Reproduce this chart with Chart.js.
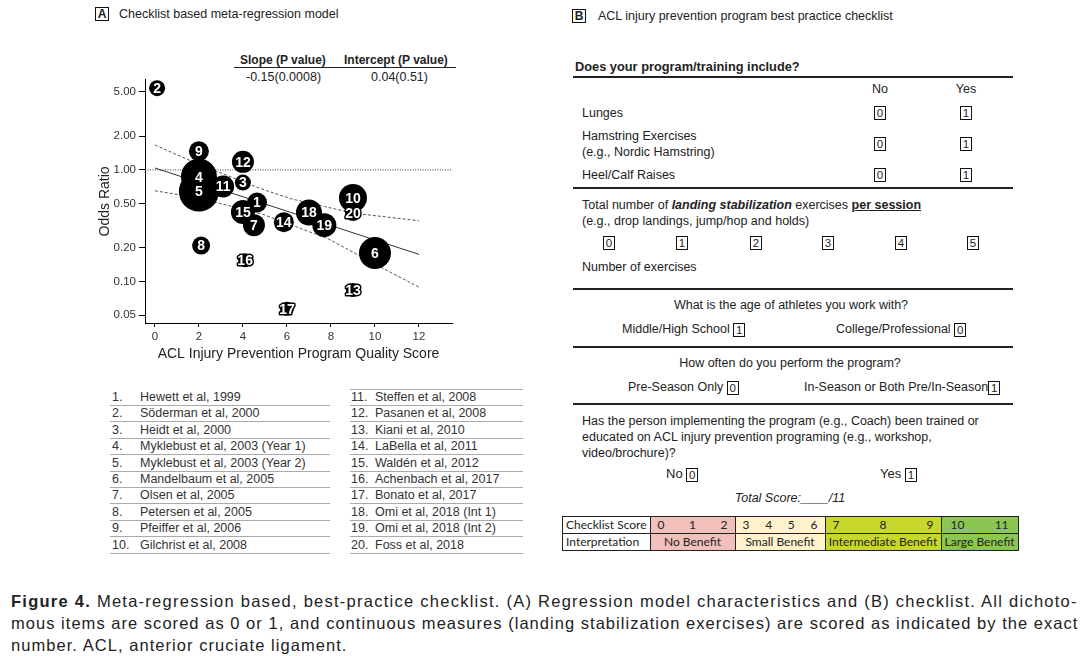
<!DOCTYPE html>
<html>
<head>
<meta charset="utf-8">
<script src="https://cdn.jsdelivr.net/npm/chart.js@4.4.0/dist/chart.umd.min.js"></script>
<style>
  body { margin: 0; width: 1089px; height: 656px; background: #fff; position: relative; overflow: hidden;
         font-family: "Liberation Sans", Arial, sans-serif; color: #222; }
  .t { position: absolute; white-space: nowrap; font-size: 12.5px; line-height: 14px; }
  .c { transform: translateX(-50%); }
  .hr { position: absolute; background: #222; height: 2px; left: 573px; width: 440px; }
  .ln { position: absolute; background: #aaa; height: 1px; }
  .bx { display: inline-block; box-sizing: border-box; border: 1px solid #111; width: 12px; height: 14px;
        line-height: 12px; text-align: center; font-size: 11.5px; vertical-align: middle; color: #222; }
  .pa { position: absolute; }
  .lab { position: absolute; box-sizing: border-box; border: 1px solid #111; width: 14px; height: 14px;
         line-height: 12px; text-align: center; font-size: 12px; font-weight: bold; }
  #wrap { position: absolute; left: 90px; top: 70px; width: 370px; height: 300px; }
  .ref { position: absolute; font-size: 12.5px; line-height: 14px; white-space: nowrap; color: #333; }
  table.sc { position: absolute; left: 562px; top: 516px; border-collapse: collapse; table-layout: fixed;
             font-family: Lato, "Open Sans", sans-serif; font-size: 12px; color: #222; }
  table.sc td { border: 1px solid #222; height: 16px; padding: 0 3px; line-height: 16px; white-space: nowrap; overflow: hidden; }
  .sp { display: flex; justify-content: space-between; padding: 0 4px; }
  .cap { position: absolute; left: 11px; display: inline-block; font-size: 16.5px; line-height: 18px; color: #222; white-space: nowrap; }
</style>
</head>
<body>

<!-- Panel A -->
<div class="lab" style="left:95px;top:7px">A</div>
<div class="t" style="left:119px;top:7px">Checklist based meta-regression model</div>
<div class="t" style="left:240px;top:53px;font-weight:bold;font-size:12px">Slope (P value)</div>
<div class="t" style="left:344px;top:53px;font-weight:bold;font-size:12px">Intercept (P value)</div>
<div class="pa" style="left:234px;top:67px;width:222px;height:1px;background:#222"></div>
<div class="t" style="left:246px;top:70px">-0.15(0.0008)</div>
<div class="t" style="left:371px;top:70px">0.04(0.51)</div>

<div id="wrap"><canvas id="chart"></canvas></div>
<div id="refs"></div>

<!-- Panel B -->
<div class="lab" style="left:572px;top:9px">B</div>
<div class="t" style="left:598px;top:9px">ACL injury prevention program best practice checklist</div>

<div class="t" style="left:575px;top:60px;font-weight:bold;font-size:12.8px">Does your program/training include?</div>
<div class="hr" style="top:76px"></div>
<div class="t c" style="left:880px;top:82px">No</div>
<div class="t c" style="left:966px;top:82px">Yes</div>

<div class="t" style="left:582px;top:106px">Lunges</div>
<span class="bx pa" style="left:874px;top:106px">0</span>
<span class="bx pa" style="left:960px;top:106px">1</span>

<div class="t" style="left:582px;top:129px">Hamstring Exercises</div>
<div class="t" style="left:582px;top:145px">(e.g., Nordic Hamstring)</div>
<span class="bx pa" style="left:874px;top:137px">0</span>
<span class="bx pa" style="left:960px;top:137px">1</span>

<div class="t" style="left:582px;top:168px">Heel/Calf Raises</div>
<span class="bx pa" style="left:874px;top:168px">0</span>
<span class="bx pa" style="left:960px;top:168px">1</span>
<div class="hr" style="top:187px"></div>

<div class="t" style="left:582px;top:198px">Total number of <b><i>landing stabilization</i></b> exercises <b><u>per session</u></b></div>
<div class="t" style="left:582px;top:214px">(e.g., drop landings, jump/hop and holds)</div>
<span class="bx pa" style="left:603px;top:236px">0</span>
<span class="bx pa" style="left:676px;top:236px">1</span>
<span class="bx pa" style="left:750px;top:236px">2</span>
<span class="bx pa" style="left:822px;top:236px">3</span>
<span class="bx pa" style="left:895px;top:236px">4</span>
<span class="bx pa" style="left:967px;top:236px">5</span>
<div class="t" style="left:582px;top:260px">Number of exercises</div>
<div class="hr" style="top:288px"></div>

<div class="t c" style="left:791px;top:298px">What is the age of athletes you work with?</div>
<div class="t" style="left:622px;top:322px">Middle/High School <span class="bx">1</span></div>
<div class="t" style="left:836px;top:322px">College/Professional <span class="bx">0</span></div>
<div class="hr" style="top:346px"></div>

<div class="t c" style="left:790px;top:356px">How often do you perform the program?</div>
<div class="t" style="left:628px;top:380px">Pre-Season Only <span class="bx">0</span></div>
<div class="t" style="left:804px;top:380px">In-Season or Both Pre/In-Season<span class="bx">1</span></div>
<div class="hr" style="top:403px"></div>

<div class="t" style="left:582px;top:414px">Has the person implementing the program (e.g., Coach) been trained or</div>
<div class="t" style="left:582px;top:430px">educated on ACL injury prevention programing (e.g., workshop,</div>
<div class="t" style="left:582px;top:446px">video/brochure)?</div>
<div class="t" style="left:666px;top:467px;font-size:13px">No <span class="bx">0</span></div>
<div class="t" style="left:880px;top:467px;font-size:13px">Yes <span class="bx">1</span></div>
<div class="t c" style="left:790px;top:491px;font-style:italic">Total Score:____/11</div>

<table class="sc">
  <tr>
    <td style="width:78px;background:#fff">Checklist Score</td>
    <td style="width:78px;background:#f1c0bb"><div class="sp"><span>0</span><span>1</span><span>2</span></div></td>
    <td style="width:83px;background:#fff2cc"><div class="sp"><span>3</span><span>4</span><span>5</span><span>6</span></div></td>
    <td style="width:109px;background:#c8d72e"><div class="sp"><span>7</span><span>8</span><span>9</span></div></td>
    <td style="width:67px;background:#8cc652"><div class="sp" style="padding:0 6px"><span>10</span><span>11</span></div></td>
  </tr>
  <tr>
    <td style="background:#fff">Interpretation</td>
    <td style="background:#f1c0bb;text-align:center">No Benefit</td>
    <td style="background:#fff2cc;text-align:center">Small Benefit</td>
    <td style="background:#c8d72e;text-align:center">Intermediate Benefit</td>
    <td style="background:#8cc652;text-align:center">Large Benefit</td>
  </tr>
</table>

<!-- Caption -->
<div class="cap" data-w="1067" style="top:592px"><b>Figure 4.</b> Meta-regression based, best-practice checklist. (A) Regression model characteristics and (B) checklist. All dichoto-</div>
<div class="cap" data-w="1067" style="top:614px">mous items are scored as 0 or 1, and continuous measures (landing stabilization exercises) are scored as indicated by the exact</div>
<div class="cap" data-w="336" style="top:636px">number. ACL, anterior cruciate ligament.</div>

<script>
// study data
const studyIds      = [1, 2, 3, 4, 5, 6, 7, 8, 9, 10, 11, 12, 13, 14, 15, 16, 17, 18, 19, 20];
const qualityScores = [4.64, 0.1, 4.0, 2.0, 2.0, 10.0, 4.5, 2.1, 2.0, 9.0, 3.1, 4.0, 9.0, 5.86, 4.0, 4.1, 6.0, 7.0, 7.7, 9.0];
const oddsRatios    = [0.51, 5.4, 0.77, 0.87, 0.64, 0.18, 0.32, 0.21, 1.47, 0.56, 0.71, 1.18, 0.084, 0.34, 0.42, 0.155, 0.057, 0.415, 0.32, 0.41];
const studyWeights  = [10, 8, 8, 18, 20, 16, 11, 9, 10, 14, 11, 11, 7, 10, 12, 7, 7, 13, 12, 8];
const studyNames = [
  "Hewett et al, 1999", "Söderman et al, 2000", "Heidt et al, 2000", "Myklebust et al, 2003 (Year 1)",
  "Myklebust et al, 2003 (Year 2)", "Mandelbaum  et al, 2005", "Olsen et al, 2005", "Petersen et al, 2005",
  "Pfeiffer et al, 2006", "Gilchrist et al, 2008", "Steffen et al, 2008", "Pasanen et al, 2008",
  "Kiani  et al, 2010", "LaBella  et al, 2011", "Waldén et al, 2012", "Achenbach et al, 2017",
  "Bonato et al, 2017", "Omi et al, 2018 (Int 1)", "Omi et al,  2018 (Int 2)", "Foss et al, 2018"
];

// fitted line and confidence band
const fitX = [0, 12];
const fitOR = [1.04, 0.175];
const upperX = [0, 2, 4.8, 6.2, 7.7, 9, 12];
const upperOR = [1.67, 1.12, 0.68, 0.55, 0.47, 0.41, 0.35];
const lowerX = [0, 2, 4.9, 6.4, 7.9, 10, 12];
const lowerOR = [0.65, 0.56, 0.40, 0.31, 0.24, 0.143, 0.089];

const xTicks = [0, 2, 4, 6, 8, 10, 12];
const yTicks = [0.05, 0.1, 0.2, 0.5, 1, 2, 5];

// reference list under the plot
const refs = document.getElementById("refs");
studyNames.forEach((name, i) => {
  const col = i < 10 ? 0 : 1;
  const row = i % 10;
  const cy = 397 + row * 16.4;
  const numLeft = col ? 351 : 112;
  const nameLeft = col ? 375 : 140;
  refs.innerHTML += `<div class="ref" style="left:${numLeft}px;top:${cy - 7}px">${studyIds[i]}.</div>` +
    `<div class="ref" style="left:${nameLeft}px;top:${cy - 7}px">${name}</div>` +
    `<div class="ln" style="left:${col ? 350 : 110}px;width:${col ? 173 : 220}px;top:${cy + 8}px"></div>`;
});
refs.innerHTML += `<div class="ln" style="left:350px;width:173px;top:389px"></div>`;

// spread the caption lines to the widths they have in the figure
document.querySelectorAll(".cap").forEach((el) => {
  const target = Number(el.dataset.w);
  const n = el.textContent.length;
  el.style.letterSpacing = (target - el.offsetWidth) / n + "px";
});

const FONT = "'Liberation Sans', Arial, sans-serif";

const bubbleLabels = {
  id: "bubbleLabels",
  beforeDatasetsDraw(chart) {
    // dotted reference line at OR = 1
    const { ctx, chartArea, scales } = chart;
    const y = scales.y.getPixelForValue(1);
    ctx.save();
    ctx.strokeStyle = "#333";
    ctx.lineWidth = 1;
    ctx.setLineDash([1, 1.5]);
    ctx.beginPath();
    ctx.moveTo(chartArea.left, y);
    ctx.lineTo(chartArea.right, y);
    ctx.stroke();
    ctx.restore();
  },
  afterDatasetsDraw(chart) {
    const { ctx } = chart;
    const meta = chart.getDatasetMeta(0);
    ctx.save();
    ctx.font = "bold 14px " + FONT;
    ctx.textAlign = "center";
    ctx.textBaseline = "middle";
    ctx.lineJoin = "round";
    meta.data.forEach((pt, i) => {
      const s = String(studyIds[i]);
      ctx.strokeStyle = "#000";
      ctx.lineWidth = 3;
      ctx.strokeText(s, pt.x, pt.y + 1);
      ctx.fillStyle = "#fff";
      ctx.fillText(s, pt.x, pt.y + 1);
    });
    ctx.restore();
  }
};

new Chart(document.getElementById("chart"), {
  type: "bubble",
  data: {
    datasets: [
      {
        data: studyIds.map((id, i) => ({ x: qualityScores[i], y: oddsRatios[i], r: studyWeights[i] })),
        backgroundColor: "#000",
        borderWidth: 0,
        clip: false,
        order: 0,
      },
      {
        type: "line",
        data: fitX.map((x, i) => ({ x, y: fitOR[i] })),
        borderColor: "#333",
        borderWidth: 1,
        pointRadius: 0,
        order: 1,
      },
      {
        type: "line",
        data: upperX.map((x, i) => ({ x, y: upperOR[i] })),
        borderColor: "#555",
        borderWidth: 1,
        borderDash: [3, 2],
        pointRadius: 0,
        order: 2,
      },
      {
        type: "line",
        data: lowerX.map((x, i) => ({ x, y: lowerOR[i] })),
        borderColor: "#555",
        borderWidth: 1,
        borderDash: [3, 2],
        pointRadius: 0,
        order: 3,
      },
    ],
  },
  options: {
    responsive: true,
    maintainAspectRatio: false,
    animation: false,
    layout: { autoPadding: false, padding: { top: 8, right: 8, left: 0, bottom: 0 } },
    plugins: { legend: { display: false }, tooltip: { enabled: false } },
    scales: {
      x: {
        type: "linear",
        min: -0.45,
        max: 13.5,
        afterBuildTicks: (s) => { s.ticks = xTicks.map((v) => ({ value: v })); },
        afterFit: (s) => { s.height = 47; },
        grid: { drawOnChartArea: false, color: "#000", tickLength: 4 },
        border: { color: "#000", width: 1 },
        ticks: { color: "#333", font: { size: 11.5, family: FONT }, padding: 3, maxRotation: 0, callback: (v) => v },
        title: {
          display: true,
          text: "ACL Injury Prevention Program Quality Score",
          color: "#222",
          font: { size: 14, family: FONT },
          padding: { top: 0, bottom: 7 },
        },
      },
      y: {
        type: "logarithmic",
        min: 0.0425,
        max: 6.4,
        afterBuildTicks: (s) => { s.ticks = yTicks.map((v) => ({ value: v })); },
        afterFit: (s) => { s.width = 55; },
        grid: { drawOnChartArea: false, color: "#000", tickLength: 6 },
        border: { color: "#000", width: 1 },
        ticks: { color: "#333", font: { size: 11.5, family: FONT }, padding: 3, callback: (v) => Number(v).toFixed(2) },
        title: {
          display: true,
          text: "Odds Ratio",
          color: "#222",
          font: { size: 14, family: FONT },
          padding: { top: 7, bottom: 0 },
        },
      },
    },
  },
  plugins: [bubbleLabels],
});
</script>
</body>
</html>
